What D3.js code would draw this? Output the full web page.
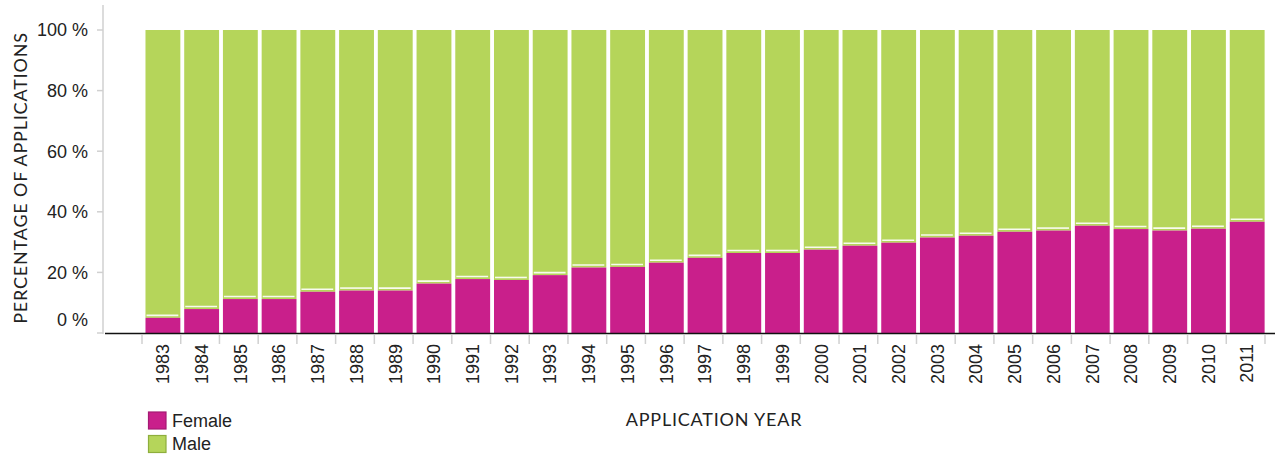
<!DOCTYPE html>
<html><head><meta charset="utf-8">
<script src="https://cdn.jsdelivr.net/npm/d3@7"></script>
<style>body{margin:0;background:#fff}svg{display:block}</style>
</head><body><svg id="c" width="1275" height="456"></svg>
<script>
const years = ["1983","1984","1985","1986","1987","1988","1989","1990","1991","1992","1993","1994","1995","1996","1997","1998","1999","2000","2001","2002","2003","2004","2005","2006","2007","2008","2009","2010","2011"];
const female = [5.0,7.9,11.2,11.2,13.6,14.0,14.0,16.3,17.8,17.5,19.1,21.6,21.8,23.2,24.8,26.4,26.4,27.5,28.8,29.8,31.5,32.1,33.4,33.8,35.4,34.3,33.8,34.4,36.7];
const male = female.map(f => 100 - f);
const yTicks = [0,20,40,60,80,100];
const seriesNames = ["Female","Male"];
const colors = {Female:"#c91f8b", Male:"#b5d55a"};
const borders = {Female:"#a51a73", Male:"#8eae3c"};

const svg = d3.select("#c");
const x = d3.scaleBand().domain(years).range([142,1265]).padding(0);
const y = d3.scaleLinear().domain([0,100]).range([333,30]);
const bw = x.bandwidth();
const off = bw*0.09, w = bw*0.9;

// y axis line
svg.append("line").attr("x1",103).attr("x2",103).attr("y1",5).attr("y2",334)
  .attr("stroke","#d0d0d0").attr("stroke-width",1.5);
yTicks.forEach(t=>{
  svg.append("line").attr("x1",97).attr("x2",103).attr("y1",y(t)).attr("y2",y(t))
    .attr("stroke","#d0d0d0").attr("stroke-width",1.5);
  svg.append("text").attr("x",88).attr("y",t===0? y(t)-13 : y(t)).attr("dy","0.35em")
    .attr("text-anchor","end").attr("font-family","Liberation Sans, Arial, sans-serif")
    .attr("font-size",18).attr("fill","#222").text(t+" %");
});

// bars
const g = svg.append("g");
years.forEach((yr,i)=>{
  const x0 = x(yr)+off;
  g.append("rect").attr("x",x0).attr("width",w).attr("y",y(100)).attr("height",y(female[i])-y(100))
    .attr("fill",colors.Male);
  g.append("rect").attr("x",x0).attr("width",w).attr("y",y(female[i])).attr("height",y(0)-y(female[i]))
    .attr("fill",colors.Female);
  g.append("line").attr("x1",x0+1).attr("x2",x0+w-2).attr("y1",y(female[i])-2.5).attr("y2",y(female[i])-2.5)
    .attr("stroke","#fff").attr("stroke-opacity",0.9).attr("stroke-width",1.6);
});

// x axis
svg.append("line").attr("x1",105).attr("x2",1275).attr("y1",333.5).attr("y2",333.5)
  .attr("stroke","#111").attr("stroke-width",1.5);
const bounds = years.map(yr=>x(yr)).concat([x(years[years.length-1])+bw]);
bounds.forEach(b=>{
  svg.append("line").attr("x1",b).attr("x2",b).attr("y1",335).attr("y2",344)
    .attr("stroke","#d0d0d0").attr("stroke-width",1.5);
});
years.forEach(yr=>{
  const cx = x(yr)+off+w/2;
  svg.append("text").attr("transform",`translate(${cx},344) rotate(-90)`)
    .attr("text-anchor","end").attr("dy","0.35em")
    .attr("font-family","Liberation Sans, Arial, sans-serif").attr("font-size",18)
    .attr("fill","#222").text(yr);
});

// axis titles
svg.append("text").attr("transform","translate(27,178) rotate(-90)").attr("text-anchor","middle")
  .attr("font-family","Lato, sans-serif").attr("font-size",18).attr("letter-spacing",0.8).attr("fill","#222")
  .text("PERCENTAGE OF APPLICATIONS");
svg.append("text").attr("x",714).attr("y",426).attr("text-anchor","middle")
  .attr("font-family","Lato, sans-serif").attr("font-size",18).attr("letter-spacing",0.8).attr("fill","#222")
  .text("APPLICATION YEAR");

// legend
seriesNames.forEach((s,i)=>{
  const ly = 412 + i*23.5;
  svg.append("rect").attr("x",148.5).attr("y",ly).attr("width",17.5).attr("height",17)
    .attr("fill",colors[s]).attr("stroke",borders[s]).attr("stroke-width",1.2);
  svg.append("text").attr("x",172).attr("y",ly+8.5).attr("dy","0.35em")
    .attr("font-family","Liberation Sans, Arial, sans-serif").attr("font-size",18)
    .attr("fill","#222").text(s);
});
</script></body></html>
